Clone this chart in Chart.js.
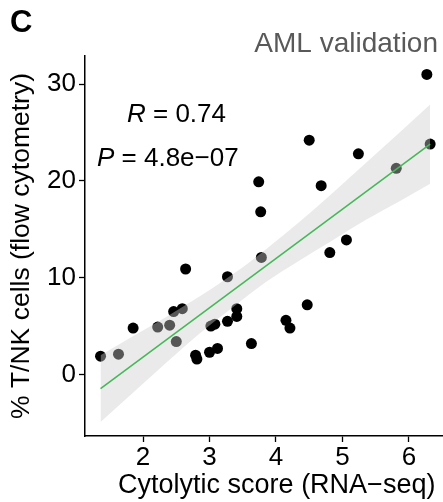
<!DOCTYPE html>
<html><head><meta charset="utf-8">
<script src="https://cdn.jsdelivr.net/npm/chart.js@4"></script>
<style>
html,body{margin:0;padding:0;overflow:hidden;background:#fff;}
#wrap{position:relative;width:474px;height:502px;}
</style></head>
<body><div id="wrap"><canvas id="c"></canvas></div>
<script>
// Data
const cytolyticScore = [1.36,1.63,1.85,2.22,2.40,2.50,2.46,2.59,2.64,2.79,2.81,3.00,3.12,3.02,3.08,3.27,3.41,3.41,3.27,3.63,3.74,3.77,3.78,4.15,4.21,4.47,4.50,4.68,4.81,5.06,5.24,5.81,6.27,6.32];
const tnkPercent     = [1.9,2.1,4.8,4.9,5.1,3.4,6.5,6.8,10.9,2.0,1.6,2.3,2.7,5.0,5.2,5.5,6.8,6.0,10.1,3.2,19.9,16.8,12.1,5.6,4.8,7.2,24.2,19.5,12.6,13.9,22.8,21.3,31.0,23.8];
const fitLineX = [1.36, 6.32];
const fitLineY = [-1.45, 23.8];
const bandX     = [1.36, 1.86, 2.36, 2.86, 3.36, 3.86, 4.36, 4.86, 5.36, 5.86, 6.32];
const bandUpper = [2.0, 4.0, 6.0, 8.1, 10.4, 13.0, 15.8, 18.8, 21.9, 25.0, 27.9];
const bandLower = [-4.9, -1.8, 1.3, 4.3, 7.0, 9.6, 11.8, 13.9, 16.0, 17.9, 19.7];
const xTicks = [2, 3, 4, 5, 6];
const yTicks = [0, 10, 20, 30];

const FONT = "'Liberation Sans', Arial, Helvetica, sans-serif";
const pts = (xs, ys) => xs.map((x, i) => ({x: x, y: ys[i]}));

const annot = {
  id: 'annot',
  afterDraw(chart) {
    const ctx = chart.ctx;
    ctx.save();
    ctx.textBaseline = 'alphabetic';
    ctx.textAlign = 'left';
    ctx.fillStyle = '#000';
    ctx.font = 'bold 31px ' + FONT;
    ctx.fillText('C', 10, 32);
    ctx.fillStyle = '#595959';
    ctx.font = '28px ' + FONT;
    ctx.textAlign = 'right';
    ctx.fillText('AML validation', 438, 52);
    ctx.textAlign = 'left';
    ctx.fillStyle = '#000';
    const drawStat = (sym, rest, x, y) => {
      ctx.font = 'italic 26px ' + FONT;
      ctx.fillText(sym, x, y);
      const w = ctx.measureText(sym).width;
      ctx.font = '26px ' + FONT;
      ctx.fillText(rest, x + w, y);
    };
    drawStat('R', ' = 0.74', 127, 122);
    drawStat('P', ' = 4.8e\u221207', 97, 166);
    ctx.restore();
  }
};

new Chart(document.getElementById('c'), {
  type: 'scatter',
  data: {
    datasets: [
      { type: 'line', label: 'fit', data: pts(fitLineX, fitLineY),
        borderColor: '#47B85A', borderWidth: 1.6, pointRadius: 0, fill: false, order: 0 },
      { type: 'line', label: 'ci upper', data: pts(bandX, bandUpper),
        borderColor: 'rgba(0,0,0,0)', borderWidth: 0, pointRadius: 0,
        fill: '+1', backgroundColor: 'rgba(205,205,205,0.42)', cubicInterpolationMode: 'monotone', order: 1 },
      { type: 'line', label: 'ci lower', data: pts(bandX, bandLower),
        borderColor: 'rgba(0,0,0,0)', borderWidth: 0, pointRadius: 0,
        fill: false, cubicInterpolationMode: 'monotone', order: 1 },
      { label: 'samples', data: pts(cytolyticScore, tnkPercent),
        backgroundColor: '#000', borderWidth: 0, pointRadius: 5.5, order: 2 }
    ]
  },
  options: {
    responsive: true, maintainAspectRatio: false, animation: false, devicePixelRatio: 1,
    layout: { padding: { top: 56, right: 0, left: 0, bottom: 0 } },
    plugins: { legend: { display: false }, tooltip: { enabled: false } },
    scales: {
      x: {
        type: 'linear', min: 1.126, max: 6.897,
        afterBuildTicks: s => { s.ticks = xTicks.map(v => ({value: v})); },
        afterFit: s => { s.height = 66; },
        grid: { drawOnChartArea: false, drawTicks: true, tickLength: 6, tickColor: '#000', tickWidth: 1.3 },
        border: { display: true, color: '#000', width: 1.5 },
        ticks: { font: { family: FONT, size: 26 }, color: '#000', padding: 0, maxRotation: 0 },
        title: { display: true, text: 'Cytolytic score (RNA\u2212seq)', font: { family: FONT, size: 27 }, color: '#000', padding: { top: 0, bottom: 0 } }
      },
      y: {
        type: 'linear', min: -6.35, max: 32.9,
        afterBuildTicks: s => { s.ticks = yTicks.map(v => ({value: v})); },
        afterFit: s => { s.width = 85; },
        grid: { drawOnChartArea: false, drawTicks: true, tickLength: 6, tickColor: '#000', tickWidth: 1.3 },
        border: { display: true, color: '#000', width: 1.5 },
        ticks: { font: { family: FONT, size: 26 }, color: '#000', padding: 3 },
        title: { display: true, text: '% T/NK cells (flow cytometry)', font: { family: FONT, size: 26.5 }, color: '#000', padding: { top: 6, bottom: 0 } }
      }
    }
  },
  plugins: [annot]
});
</script>
</body></html>
